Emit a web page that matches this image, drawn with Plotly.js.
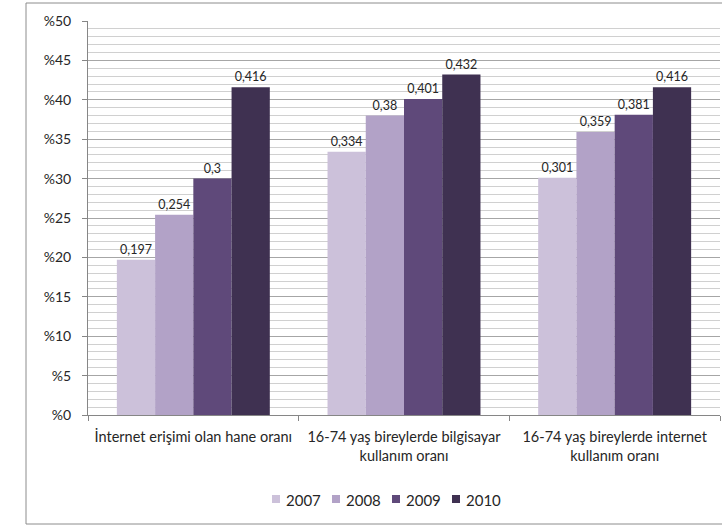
<!DOCTYPE html>
<html>
<head>
<meta charset="utf-8">
<script src="https://cdn.plot.ly/plotly-3.0.1.min.js"></script>
<style>html,body{margin:0;padding:0;background:#fff;}#chart{width:722px;height:525px;}</style>
</head>
<body>
<div id="chart"></div>
<script>
const categories = [
  "İnternet erişimi olan hane oranı",
  "16-74 yaş bireylerde bilgisayar<br>kullanım oranı",
  "16-74 yaş bireylerde internet<br>kullanım oranı"
];
const years = ["2007", "2008", "2009", "2010"];
const values2007 = [0.197, 0.334, 0.301];
const values2008 = [0.254, 0.38, 0.359];
const values2009 = [0.3, 0.401, 0.381];
const values2010 = [0.416, 0.432, 0.416];
const tickValues = [0, 0.05, 0.1, 0.15, 0.2, 0.25, 0.3, 0.35, 0.4, 0.45, 0.5];
const tickLabels = ["%0", "%5", "%10", "%15", "%20", "%25", "%30", "%35", "%40", "%45", "%50"];
const colors = ["#CCC1DA", "#B2A2C7", "#5F497A", "#3F3151"];

const seriesValues = [values2007, values2008, values2009, values2010];
const fontFam = "Lato, 'Open Sans', sans-serif";
const traces = seriesValues.map((vals, i) => ({
  type: "bar",
  name: years[i],
  x: categories,
  y: vals,
  marker: {color: colors[i]},
  text: vals.map(v => String(v).replace(".", ",")),
  textposition: "outside",
  textfont: {size: 12.5, color: "#262626", family: fontFam},
  cliponaxis: false,
  hoverinfo: "skip",
  showlegend: false
}));

const L = 88, T = 21, R = 2, B = 110;
const pw = 722 - L - R, ph = 525 - T - B;
const px = v => (v - L) / pw;          // pixel -> paper x
const py = v => (T + ph - v) / ph;     // pixel -> paper y

// custom legend (compact, like the original)
const legStart = 272, legPitch = 60, sq = 8, legY = 499;
const legendShapes = years.map((y, i) => ({
  type: "rect", xref: "paper", yref: "paper",
  x0: px(legStart + i * legPitch), x1: px(legStart + i * legPitch + sq),
  y0: py(legY + sq / 2), y1: py(legY - sq / 2),
  fillcolor: colors[i], line: {width: 0}
}));
const legendTexts = years.map((y, i) => ({
  xref: "paper", yref: "paper",
  x: px(legStart + i * legPitch + sq + 4), y: py(legY + 0.5),
  xanchor: "left", yanchor: "middle", showarrow: false,
  text: y, font: {size: 15, family: fontFam, color: "#262626"}
}));

const layout = {
  width: 722, height: 525,
  margin: {l: L, r: R, t: T, b: B},
  paper_bgcolor: "#fff", plot_bgcolor: "#fff",
  barmode: "group", bargap: 0.274, bargroupgap: 0,
  font: {family: fontFam, color: "#262626"},
  showlegend: false,
  xaxis: {
    type: "category",
    showline: true, linecolor: "#868686", linewidth: 1,
    ticks: "outside", tickson: "boundaries", ticklen: 5, tickcolor: "#868686",
    tickfont: {size: 14.5, family: fontFam, color: "#262626"},
    ticklabelstandoff: 9,
    showgrid: false, zeroline: false, fixedrange: true
  },
  yaxis: {
    range: [0, 0.5],
    tickmode: "array", tickvals: tickValues, ticktext: tickLabels,
    showline: true, linecolor: "#868686", linewidth: 1,
    ticks: "outside", ticklen: 5, tickcolor: "#868686",
    tickfont: {size: 14, family: fontFam, color: "#262626"},
    ticklabelstandoff: 8,
    showgrid: true, gridcolor: "#a6a6a6", gridwidth: 1,
    minor: {dtick: 0.01, tick0: 0, showgrid: true, gridcolor: "#d0d0d0", gridwidth: 1, ticks: ""},
    zeroline: false, fixedrange: true
  },
  annotations: legendTexts,
  shapes: [{
    type: "rect", xref: "paper", yref: "paper",
    x0: px(26), x1: px(740),
    y0: py(524), y1: py(3),
    line: {color: "#8c8c8c", width: 1}, fillcolor: "rgba(0,0,0,0)", layer: "below"
  }].concat(legendShapes)
};

Plotly.newPlot("chart", traces, layout, {displayModeBar: false, staticPlot: true});
</script>
</body>
</html>
